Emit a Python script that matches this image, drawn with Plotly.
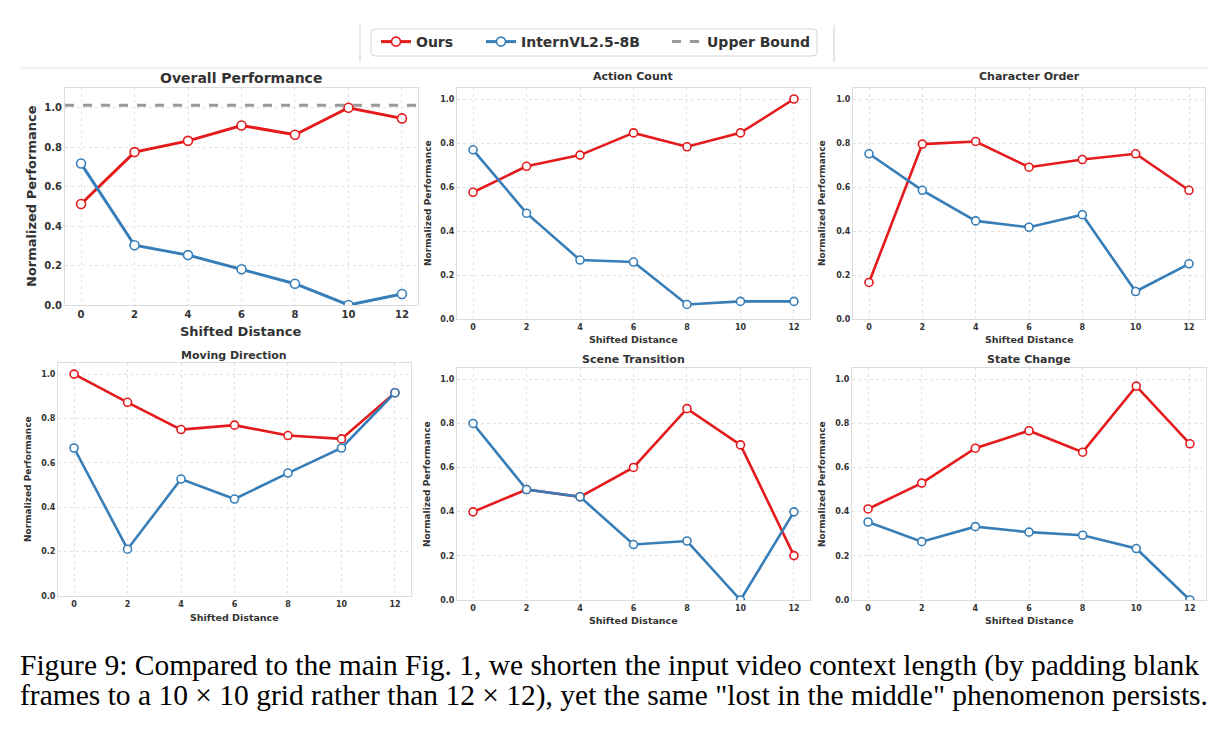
import plotly.graph_objects as go

W, H = 1227, 731

shifts = [0, 2, 4, 6, 8, 10, 12]
panel_titles = ["Overall Performance", "Action Count", "Character Order",
                "Moving Direction", "Scene Transition", "State Change"]

ours_overall = [0.512, 0.775, 0.832, 0.910, 0.863, 1.0, 0.946]
intern_overall = [0.717, 0.303, 0.253, 0.181, 0.108, 0.0, 0.056]
upper_bound = 1.012

ours_action = [0.576, 0.694, 0.745, 0.846, 0.783, 0.846, 1.0]
intern_action = [0.769, 0.481, 0.268, 0.259, 0.066, 0.080, 0.080]

ours_char = [0.166, 0.795, 0.807, 0.690, 0.725, 0.751, 0.585]
intern_char = [0.751, 0.585, 0.446, 0.417, 0.474, 0.125, 0.251]

ours_moving = [1.0, 0.873, 0.750, 0.770, 0.723, 0.708, 0.916]
intern_moving = [0.667, 0.211, 0.527, 0.437, 0.554, 0.667, 0.916]

ours_scene = [0.399, 0.5, 0.467, 0.6, 0.866, 0.702, 0.201]
intern_scene = [0.799, 0.5, 0.467, 0.251, 0.267, 0.0, 0.399]

ours_state = [0.412, 0.529, 0.687, 0.766, 0.669, 0.968, 0.707]
intern_state = [0.353, 0.264, 0.332, 0.307, 0.293, 0.233, 0.0]

ours_series = [ours_overall, ours_action, ours_char, ours_moving, ours_scene, ours_state]
intern_series = [intern_overall, intern_action, intern_char, intern_moving, intern_scene, intern_state]

RED = "#e41a1c"
BLUE = "#377eb8"
GREY = "#999999"
TXT = "#333333"
FONT = "DejaVu Sans"

def fx(x):
    return x / W

def fy(y):
    return 1 - y / H

# panel boxes in px: left, right, top, bottom
boxes = [(65, 418, 88, 305), (457, 810, 88, 319), (853, 1205, 88, 319),
         (58, 411, 363, 596), (457, 810, 368, 600), (852, 1206, 368, 600)]
title_pos = [(241, 78), (633, 77), (1029, 77), (234, 355), (633, 359), (1029, 359)]
xtitle_pos = [(241, 331), (633, 340), (1029, 340), (234, 617), (633, 620), (1029, 620)]
ytitle_pos = [(32, 196), (428, 203), (822, 203), (28, 479), (427, 484), (822, 484)]

fig = go.Figure()
annotations = []

for i in range(6):
    l, r, t, b = boxes[i]
    big = (i == 0)
    ax = "" if i == 0 else str(i + 1)
    xref = "x" + ax
    yref = "y" + ax
    lw = 3 if big else 2.6
    ms = 9 if big else 8
    fig.add_trace(go.Scatter(
        x=shifts, y=ours_series[i], mode="lines+markers", name="Ours",
        line=dict(color=RED, width=lw),
        marker=dict(symbol="circle", size=ms, color="white", line=dict(color=RED, width=1.6)),
        xaxis=xref, yaxis=yref, showlegend=(i == 0), legend="legend"))
    fig.add_trace(go.Scatter(
        x=shifts, y=intern_series[i], mode="lines+markers", name="InternVL2.5-8B",
        line=dict(color=BLUE, width=lw),
        marker=dict(symbol="circle", size=ms, color="white", line=dict(color=BLUE, width=1.6)),
        xaxis=xref, yaxis=yref, showlegend=(i == 0), legend="legend2"))
    if i == 0:
        fig.add_trace(go.Scatter(
            x=[-0.6, 12.6], y=[upper_bound, upper_bound], mode="lines", name="Upper Bound",
            line=dict(color=GREY, width=3, dash="dash"),
            xaxis=xref, yaxis=yref, showlegend=True, legend="legend3"))

    tick_size = 10 if big else 8
    common = dict(
        showgrid=True, gridcolor="#e3e3e3", griddash="dot", gridwidth=1,
        showline=True, linecolor="#dcdcdc", linewidth=1, mirror=True,
        zeroline=False, ticks="", automargin=False,
        tickfont=dict(family=FONT, size=tick_size, color=TXT, weight="bold"),
    )
    fig.layout["xaxis" + ax] = dict(
        domain=[fx(l), fx(r)], anchor=yref, range=[-0.6, 12.6],
        tickvals=shifts, ticktext=[str(s) for s in shifts], **common)
    fig.layout["yaxis" + ax] = dict(
        domain=[fy(b), fy(t)], anchor=xref, range=[0, 1.1 if big else 1.05],
        tickvals=[0, 0.2, 0.4, 0.6, 0.8, 1.0],
        ticktext=["0.0", "0.2", "0.4", "0.6", "0.8", "1.0"], **common)

    tx, ty = title_pos[i]
    annotations.append(dict(x=fx(tx), y=fy(ty), xref="paper", yref="paper",
                            text=panel_titles[i], showarrow=False,
                            xanchor="center", yanchor="middle",
                            font=dict(family=FONT, size=14 if big else 11, color=TXT, weight="bold")))
    xx, xy = xtitle_pos[i]
    annotations.append(dict(x=fx(xx), y=fy(xy), xref="paper", yref="paper",
                            text="Shifted Distance", showarrow=False,
                            xanchor="center", yanchor="middle",
                            font=dict(family=FONT, size=13 if big else 9.5, color=TXT, weight="bold")))
    yx, yy = ytitle_pos[i]
    annotations.append(dict(x=fx(yx), y=fy(yy), xref="paper", yref="paper",
                            text="Normalized Performance", showarrow=False, textangle=-90,
                            xanchor="center", yanchor="middle",
                            font=dict(family=FONT, size=13 if big else 9, color=TXT, weight="bold")))

caption1 = "Figure 9: Compared to the main Fig. 1, we shorten the input video context length (by padding blank"
caption2 = "frames to a 10 \u00d7 10 grid rather than 12 \u00d7 12), yet the same \"lost in the middle\" phenomenon persists."
for txt, yc in [(caption1, 665), (caption2, 695)]:
    annotations.append(dict(x=fx(18), y=fy(yc), xref="paper", yref="paper",
                            text=txt, showarrow=False, xanchor="left", yanchor="middle",
                            font=dict(family="Liberation Serif", size=29.5, color="black")))

# legend frame (rounded) and figure decorations
bx0, bx1, by0, by1, rr = 371, 817, 29, 56, 4
frame_path = (f"M {fx(bx0 + rr)} {fy(by0)} L {fx(bx1 - rr)} {fy(by0)} "
              f"Q {fx(bx1)} {fy(by0)} {fx(bx1)} {fy(by0 + rr)} L {fx(bx1)} {fy(by1 - rr)} "
              f"Q {fx(bx1)} {fy(by1)} {fx(bx1 - rr)} {fy(by1)} L {fx(bx0 + rr)} {fy(by1)} "
              f"Q {fx(bx0)} {fy(by1)} {fx(bx0)} {fy(by1 - rr)} L {fx(bx0)} {fy(by0 + rr)} "
              f"Q {fx(bx0)} {fy(by0)} {fx(bx0 + rr)} {fy(by0)} Z")
shapes = [
    dict(type="line", xref="paper", yref="paper", x0=fx(21), x1=fx(1208), y0=fy(68), y1=fy(68),
         line=dict(color="#e2e2e2", width=1)),
    dict(type="line", xref="paper", yref="paper", x0=fx(360), x1=fx(360), y0=fy(25), y1=fy(62),
         line=dict(color="#cfcfcf", width=1)),
    dict(type="line", xref="paper", yref="paper", x0=fx(834), x1=fx(834), y0=fy(25), y1=fy(62),
         line=dict(color="#cfcfcf", width=1)),
    dict(type="path", xref="paper", yref="paper", path=frame_path,
         line=dict(color="#d6d6d6", width=1), fillcolor="rgba(0,0,0,0)"),
]

legend_font = dict(family=FONT, size=14, color=TXT, weight="bold")
def leg(text_x):
    return dict(orientation="h", x=fx(text_x - 40), y=fy(42), xanchor="left", yanchor="middle",
                borderwidth=0, bgcolor="rgba(0,0,0,0)", font=legend_font)

fig.update_layout(
    width=W, height=H, margin=dict(l=0, r=0, t=0, b=0),
    paper_bgcolor="white", plot_bgcolor="white",
    annotations=annotations, shapes=shapes,
    legend=leg(416), legend2=leg(521), legend3=leg(707),
)

fig.write_html("out.html")
